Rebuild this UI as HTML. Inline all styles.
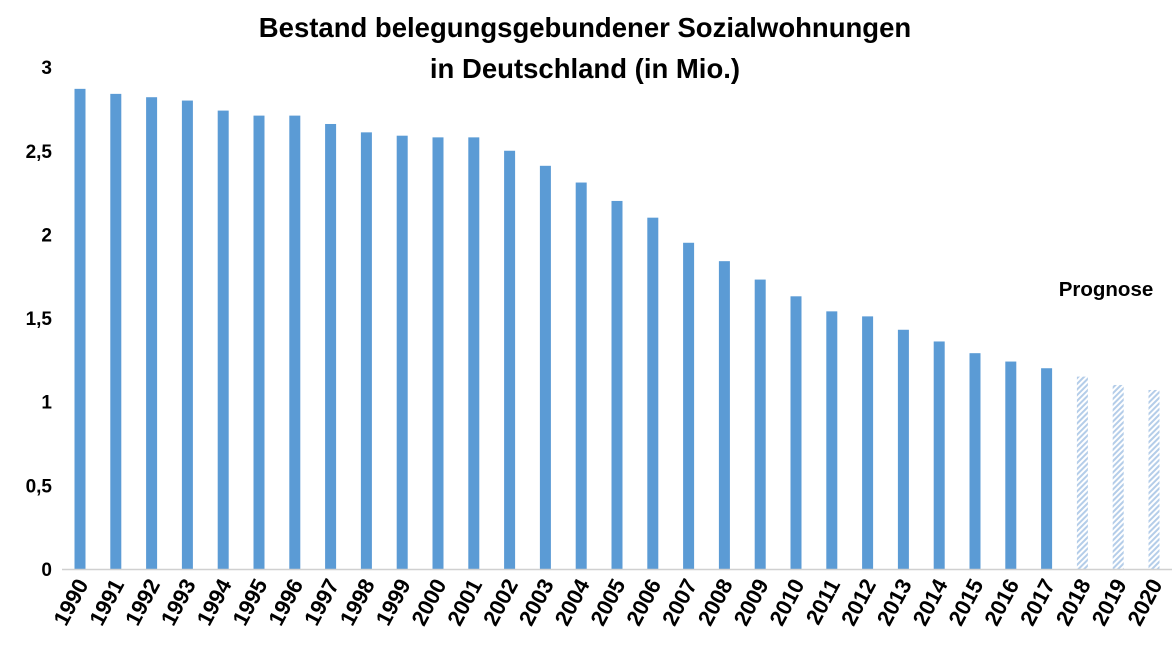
<!DOCTYPE html>
<html><head><meta charset="utf-8"><style>
body{margin:0;background:#fff;}
svg{display:block;font-family:"Liberation Sans",sans-serif;}
</style></head><body>
<svg id="chart" width="1176" height="652">
<defs>
<pattern id="hatch" width="4" height="4" patternUnits="userSpaceOnUse" patternTransform="rotate(45)">
<rect width="4" height="4" fill="#fff"/>
<rect width="2" height="4" fill="#b4cde9"/>
</pattern>
</defs>
<text x="585" y="37" text-anchor="middle" font-size="27.5" font-weight="bold" fill="#000">Bestand belegungsgebundener Sozialwohnungen</text>
<text x="585" y="78" text-anchor="middle" font-size="27.5" font-weight="bold" fill="#000">in Deutschland (in Mio.)</text>
<text x="1106" y="296" text-anchor="middle" font-size="20.5" font-weight="bold" fill="#000">Prognose</text>
<g id="yaxis"></g>
<g id="bars"></g>
<g id="xaxis"></g>
</svg>
<script>
const years=[1990,1991,1992,1993,1994,1995,1996,1997,1998,1999,2000,2001,2002,2003,2004,2005,2006,2007,2008,2009,2010,2011,2012,2013,2014,2015,2016,2017,2018,2019,2020];
const values=[2.87,2.84,2.82,2.80,2.74,2.71,2.71,2.66,2.61,2.59,2.58,2.58,2.50,2.41,2.31,2.20,2.10,1.95,1.84,1.73,1.63,1.54,1.51,1.43,1.36,1.29,1.24,1.20,1.15,1.10,1.07];
const forecastFrom=2018;
const yTicks=[0,0.5,1,1.5,2,2.5,3];
const yTickLabels=["0","0,5","1","1,5","2","2,5","3"];
const NS="http://www.w3.org/2000/svg";
const y0=569,ppu=167.3;
function yScale(v){return y0-v*ppu;}
function xScale(i){return 80+i*35.8;}
const ya=document.getElementById('yaxis'),bg=document.getElementById('bars'),xa=document.getElementById('xaxis');
yTicks.forEach((t,i)=>{
 const tx=document.createElementNS(NS,'text');
 
 
 tx.setAttribute('x',52);tx.setAttribute('y',yScale(t)+7);
 tx.setAttribute('text-anchor','end');tx.setAttribute('font-size','19');tx.setAttribute('font-weight','bold');
 tx.textContent=yTickLabels[i];ya.appendChild(tx);
});
const ax=document.createElementNS(NS,'line');


ax.setAttribute('x1',62);ax.setAttribute('x2',1172);ax.setAttribute('y1',y0+0.5);ax.setAttribute('y2',y0+0.5);
ax.setAttribute('stroke','#d0d0d0');ax.setAttribute('stroke-width','1.5');xa.appendChild(ax);
years.forEach((yr,i)=>{
 const r=document.createElementNS(NS,'rect');
 
 
 const cx=xScale(i),top=yScale(values[i]);
 r.setAttribute('x',cx-5.5);r.setAttribute('width',11);
 r.setAttribute('y',top);r.setAttribute('height',y0-top);
 r.setAttribute('fill',yr>=forecastFrom?'url(#hatch)':'#5b9bd5');
 bg.appendChild(r);
 const tx=document.createElementNS(NS,'text');
 
 
 const lx=cx+9,ly=584;
 tx.setAttribute('x',lx);tx.setAttribute('y',ly);
 tx.setAttribute('text-anchor','end');tx.setAttribute('font-size','22');tx.setAttribute('font-weight','bold');
 tx.setAttribute('transform','rotate(-62 '+lx+' '+ly+')');
 tx.textContent=yr;xa.appendChild(tx);
});
</script>
</body></html>
